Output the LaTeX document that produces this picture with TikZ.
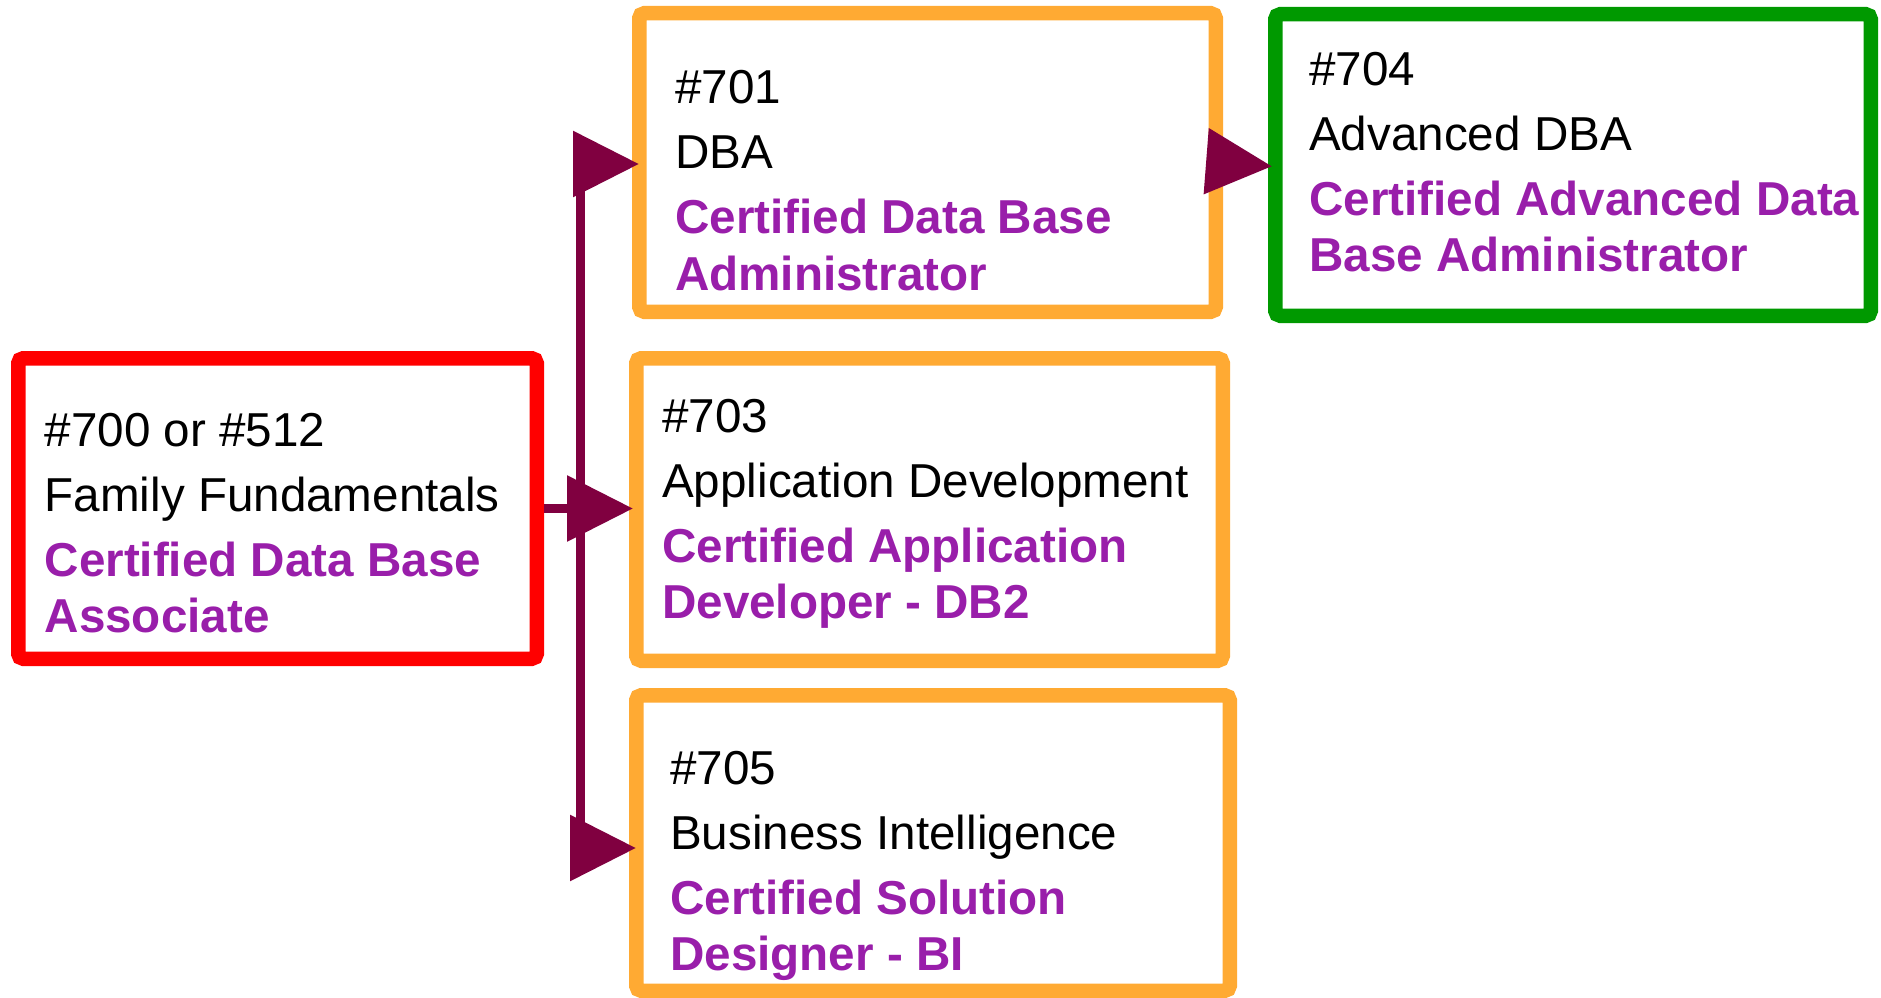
\documentclass[tikz,border=0pt]{standalone}
\usepackage{fontspec}
\setmainfont[Ligatures=NoCommon]{Liberation Sans}
\usetikzlibrary{arrows.meta}
\definecolor{boxred}{RGB}{255,0,0}
\definecolor{boxorange}{RGB}{255,170,51}
\definecolor{boxgreen}{RGB}{0,153,0}
\definecolor{arrowc}{RGB}{128,0,64}
\definecolor{purp}{RGB}{153,30,170}
\newcommand\cardtext[4]{\vtop{\lineskiplimit=-\maxdimen\baselineskip=65pt
  \hbox{#1}\hbox{#2}\hbox{\bfseries\color{purp}#3}\baselineskip=56.5pt
  \hbox{\bfseries\color{purp}#4}}}
\tikzset{
  card/.style={draw, line width=14.5pt, rounded corners=5pt, inner sep=0pt, fill=white},
  cardtxt/.style={inner sep=0pt, anchor=base west, font=\fontsize{47.6pt}{56pt}\selectfont},
  conn/.style={draw=arrowc, line width=9.5pt, -{Triangle[length=66pt,width=64pt]}, shorten >=-6pt},
}
\begin{document}
\begin{tikzpicture}[x=1pt,y=-1pt]
\useasboundingbox (0,0) rectangle (1881,998);
% boxes
\node[card, draw=boxred, minimum width=518.5pt, minimum height=300.5pt] (red) at (277.5,508.5) {};
\node[card, draw=boxorange, minimum width=576.5pt, minimum height=298.5pt] (b701) at (927.5,162.5) {};
\node[card, draw=boxgreen, minimum width=595.5pt, minimum height=301.5pt] (b704) at (1573,165) {};
\node[card, draw=boxorange, minimum width=586.5pt, minimum height=302.5pt] (b703) at (929.5,509.5) {};
\node[card, draw=boxorange, minimum width=593.5pt, minimum height=295.5pt] (b705) at (933,843) {};
% texts
\node[cardtxt] (t700) at (44.5,446) {\cardtext{\#700 or \#512}{Family Fundamentals}{Certified Data Base}{Associate}};
\node[cardtxt] (t701) at (675,103.5) {\cardtext{\#701}{DBA}{Certified Data Base}{Administrator}};
\node[cardtxt] (t704) at (1309,85) {\cardtext{\#704}{Advanced DBA}{Certified Advanced Data}{Base Administrator}};
\node[cardtxt] (t703) at (662,432) {\cardtext{\#703}{Application Development}{Certified Application}{Developer - DB2}};
\node[cardtxt] (t705) at (670,784) {\cardtext{\#705}{Business Intelligence}{Certified Solution}{Designer - BI}};
% connectors
\coordinate (j) at (580.5,509);
\draw[conn, shorten >=-4pt] (red.east) -- (red.east -| b703.west);
\draw[conn, shorten >=-7pt] (j) |- ([yshift=-1.5pt]b701.west);
\draw[conn, shorten >=-7pt] (j) |- ([yshift=-5pt]b705.west);
\draw[conn, shorten >=-4pt] (b701.east) -- ([yshift=-1pt]b704.west);
\end{tikzpicture}
\end{document}
